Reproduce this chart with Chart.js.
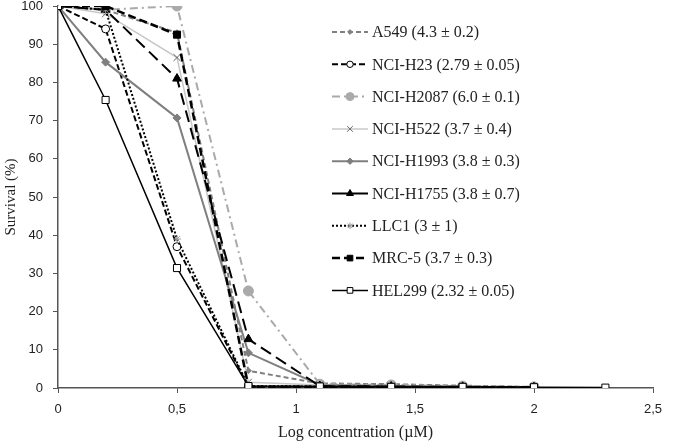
<!DOCTYPE html>
<html>
<head>
<meta charset="utf-8">
<script src="https://cdn.jsdelivr.net/npm/chart.js@4/dist/chart.umd.min.js"></script>
<style>
  html, body { margin: 0; padding: 0; background: #fff; }
  #chart { display: block; }
</style>
</head>
<body>
<canvas id="chart" width="675" height="442"></canvas>
<script>
// Log concentration (µM)
const logConc = [0, 0.2, 0.5, 0.8, 1.1, 1.4, 1.7, 2.0, 2.3];

// Survival (%) per cell line
const a549    = [100, 99, 93, 4.5, 1.2, 1.0, 0.6, 0.3, null];
const nciH23  = [100, 94, 37, 0.3, 0.3, 0.2, 0.2, 0.1, null];
const nciH2087 = [100, 99, 100, 25.4, 1.0, 0.8, 0.5, 0.3, null];
const nciH522 = [100, 98, 86.5, 1.5, 0.8, 0.5, 0.4, 0.2, null];
const nciH1993 = [100, 85.3, 70.7, 9.2, 0.8, 0.5, 0.4, 0.2, null];
const nciH1755 = [100, 99, 81, 12.8, 0.5, 0.4, 0.3, 0.2, null];
const llc1    = [100, 99, 39, 0.5, 0.4, 0.3, 0.2, 0.1, null];
const mrc5    = [100, 100, 92.5, 0.3, 0.3, 0.2, 0.2, 0.1, null];
const hel299  = [100, 75.4, 31.4, 0.5, 0.4, 0.3, 0.3, 0.2, 0.1];

const labels = [
  'A549 (4.3 ± 0.2)',
  'NCI-H23 (2.79 ± 0.05)',
  'NCI-H2087 (6.0 ± 0.1)',
  'NCI-H522 (3.7 ± 0.4)',
  'NCI-H1993 (3.8 ± 0.3)',
  'NCI-H1755 (3.8 ± 0.7)',
  'LLC1 (3 ± 1)',
  'MRC-5 (3.7 ± 0.3)',
  'HEL299 (2.32 ± 0.05)'
];
const series = [a549, nciH23, nciH2087, nciH522, nciH1993, nciH1755, llc1, mrc5, hel299];

// line / marker styles, same order as labels
const styles = [
  { color: '#808080', width: 2, dash: [5, 3], point: 'rectRot', r: 3, fill: '#808080', stroke: '#808080' },
  { color: '#000000', width: 2, dash: [6, 3], point: 'circle', r: 4, fill: '#ffffff', stroke: '#000000' },
  { color: '#aaaaaa', width: 2, dash: [8, 4, 2, 4], point: 'circle', r: 5, fill: '#aaaaaa', stroke: '#aaaaaa' },
  { color: '#c8c8c8', width: 1.5, dash: [], point: 'crossRot', r: 5, fill: '#666666', stroke: '#666666' },
  { color: '#7f7f7f', width: 2, dash: [], point: 'rectRot', r: 4, fill: '#7f7f7f', stroke: '#7f7f7f' },
  { color: '#000000', width: 2, dash: [12, 6], legendDash: [], point: 'triangle', r: 5, fill: '#000000', stroke: '#000000' },
  { color: '#000000', width: 2, dash: [2, 2], point: 'star', r: 4, fill: '#bbbbbb', stroke: '#999999' },
  { color: '#000000', width: 2.5, dash: [8, 4], point: 'rect', r: 5, fill: '#000000', stroke: '#000000' },
  { color: '#000000', width: 1.5, dash: [], point: 'rect', r: 5, fill: '#ffffff', stroke: '#000000' }
];

const SERIF = '"Liberation Serif", "DejaVu Serif", serif';
const SANS = '"Liberation Sans", Arial, sans-serif';
const LEGEND = { x: 332, top: 32, step: 32.3, sample: 36 };

const datasets = series.map((vals, i) => {
  const s = styles[i];
  return {
    label: labels[i],
    data: logConc.map((x, j) => ({ x: x, y: vals[j] })),
    borderColor: s.color,
    borderWidth: s.width,
    borderDash: s.dash,
    legendDash: s.legendDash,
    pointStyle: s.point,
    pointRadius: s.r,
    pointBackgroundColor: s.fill,
    pointBorderColor: s.stroke,
    pointBorderWidth: 1,
    tension: 0,
    spanGaps: false,
    order: series.length - i
  };
});

// легенда внутри области графика
const insideLegend = {
  id: 'insideLegend',
  afterDraw(chart) {
    const ctx = chart.ctx;
    chart.data.datasets.forEach((ds, i) => {
      const y = LEGEND.top + i * LEGEND.step;
      ctx.save();
      ctx.strokeStyle = ds.borderColor;
      ctx.lineWidth = ds.borderWidth;
      ctx.setLineDash(ds.legendDash || ds.borderDash || []);
      ctx.beginPath();
      ctx.moveTo(LEGEND.x, y);
      ctx.lineTo(LEGEND.x + LEGEND.sample, y);
      ctx.stroke();
      ctx.setLineDash([]);
      ctx.fillStyle = ds.pointBackgroundColor;
      ctx.strokeStyle = ds.pointBorderColor;
      ctx.lineWidth = ds.pointBorderWidth;
      Chart.helpers.drawPoint(ctx, {
        pointStyle: ds.pointStyle,
        radius: ds.pointRadius * 0.8,
        rotation: 0,
        borderWidth: ds.pointBorderWidth
      }, LEGEND.x + LEGEND.sample / 2, y);
      ctx.fillStyle = '#222';
      ctx.font = '16px ' + SERIF;
      ctx.textBaseline = 'middle';
      ctx.textAlign = 'left';
      ctx.fillText(ds.label, LEGEND.x + LEGEND.sample + 4, y + 1);
      ctx.restore();
    });
  }
};

new Chart(document.getElementById('chart'), {
  type: 'line',
  data: { datasets: datasets },
  plugins: [insideLegend],
  options: {
    responsive: false,
    animation: false,
    layout: { padding: { top: 0, right: 22, left: 0, bottom: 0 } },
    plugins: {
      legend: { display: false },
      tooltip: { enabled: false }
    },
    scales: {
      x: {
        type: 'linear',
        min: 0,
        max: 2.5,
        afterFit: s => { s.height = 54; },
        border: { display: true, color: '#555', width: 1.5 },
        grid: { drawOnChartArea: false, drawTicks: true, tickLength: 5, color: '#555' },
        ticks: {
          stepSize: 0.5,
          color: '#222',
          font: { family: SANS, size: 13 },
          padding: 9,
          maxRotation: 0,
          callback: v => String(v).replace('.', ',')
        },
        title: {
          display: true,
          text: 'Log concentration (µM)',
          color: '#222',
          font: { family: SERIF, size: 16 },
          padding: { top: 0, bottom: 0 }
        }
      },
      y: {
        min: 0,
        max: 100,
        afterFit: s => { s.width = 58; s.paddingTop = 6; s.paddingBottom = 0; },
        border: { display: true, color: '#555', width: 1.5 },
        grid: { drawOnChartArea: false, drawTicks: true, tickLength: 5, color: '#555' },
        ticks: {
          stepSize: 10,
          color: '#222',
          font: { family: SANS, size: 13 },
          padding: 10
        },
        title: {
          display: true,
          text: 'Survival (%)',
          color: '#222',
          font: { family: SERIF, size: 15 },
          padding: { top: 2, bottom: 4 }
        }
      }
    }
  }
});
</script>
</body>
</html>
